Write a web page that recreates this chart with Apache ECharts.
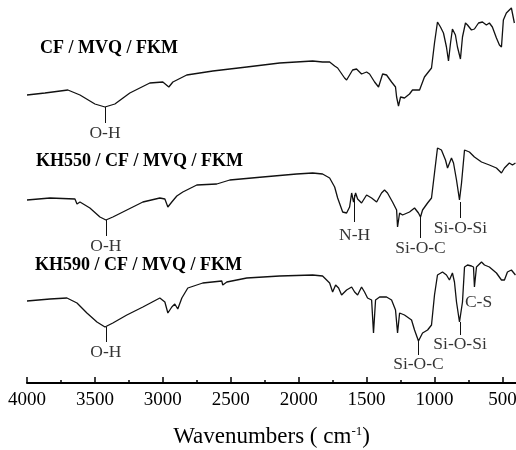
<!DOCTYPE html>
<html>
<head>
<meta charset="utf-8"/>
<title>FTIR</title>
<script src="https://cdn.jsdelivr.net/npm/echarts@6/dist/echarts.min.js"></script>
<style>
  html, body { margin: 0; padding: 0; background: #fff; }
  #main { width: 516px; height: 450px; }
</style>
</head>
<body>
<div id="main"></div>
<script type="text/javascript">
// spectra: [wavenumber, transmittance (a.u., stacked)]
var cfSpectrum = [
  [4000,288],[3868,290],[3699,293],[3610,288],[3500,279],[3426,276],[3353,279],[3243,290],
  [3096,300],[3000,301],[2956,296],[2926,301],[2824,308],[2632,312],[2382,316],[2140,320],
  [1897,322],[1824,321],[1772,321],[1735,317],[1713,315],[1662,305],[1647,303],[1603,313],
  [1574,314],[1537,309],[1500,311],[1478,309],[1441,301],[1412,296],[1382,309],[1353,308],
  [1316,301],[1287,296],[1279,286],[1265,277],[1250,286],[1221,285],[1184,289],[1162,293],
  [1110,293],[1074,306],[1022,315],[1000,340],[978,361],[956,356],[934,350],[912,336],
  [897,322],[882,340],[868,354],[846,348],[831,336],[809,324],[794,346],[772,360],
  [757,358],[728,353],[706,354],[676,360],[647,361],[618,358],[596,360],[574,356],
  [544,345],[522,338],[507,336],[493,363],[471,370],[449,373],[434,375],[412,360]
];
var kh550Spectrum = [
  [4000,183],[3831,185],[3647,184],[3632,179],[3610,181],[3537,175],[3463,166],[3419,163],
  [3368,166],[3265,173],[3147,181],[3022,185],[2985,184],[2963,176],[2934,181],[2897,187],
  [2853,191],[2750,198],[2603,199],[2507,203],[2265,206],[2015,209],[1897,210],[1824,209],
  [1772,205],[1735,196],[1713,185],[1676,171],[1647,170],[1625,176],[1610,190],[1596,181],
  [1581,190],[1566,184],[1537,180],[1500,188],[1463,185],[1426,181],[1390,190],[1368,193],
  [1346,190],[1309,181],[1279,173],[1272,156],[1257,170],[1235,168],[1184,171],[1147,175],
  [1118,170],[1103,166],[1088,173],[1051,180],[1022,185],[1000,210],[978,235],[949,233],
  [919,223],[904,215],[875,225],[860,220],[838,203],[816,183],[809,181],[801,200],
  [779,233],[743,231],[706,226],[654,221],[596,218],[544,215],[507,210],[485,215],
  [449,220],[426,218],[404,220]
];
var kh590Spectrum = [
  [4000,82],[3831,84],[3706,85],[3632,80],[3559,70],[3485,61],[3426,56],[3368,60],
  [3265,68],[3147,76],[3022,85],[2985,81],[2963,70],[2934,76],[2912,79],[2890,74],
  [2860,85],[2816,95],[2706,100],[2566,102],[2559,98],[2529,101],[2382,105],[2140,107],
  [1897,108],[1824,107],[1809,105],[1772,100],[1750,91],[1728,98],[1706,95],[1684,88],
  [1647,93],[1610,96],[1588,91],[1566,88],[1537,96],[1515,91],[1493,85],[1463,83],
  [1449,50],[1434,83],[1404,86],[1353,86],[1316,83],[1287,73],[1272,50],[1257,70],
  [1221,68],[1169,63],[1147,53],[1118,42],[1088,50],[1051,53],[1022,58],[1000,88],
  [978,108],[941,111],[912,108],[890,103],[868,110],[853,101],[838,81],[816,61],
  [794,81],[779,116],[757,118],[728,117],[713,116],[706,96],[691,116],[654,121],
  [632,118],[596,116],[544,110],[507,103],[485,103],[463,111],[434,113],[404,108]
];

// band markers: [label, wavenumber, line top, line bottom, text position]
var bandLabels = [
  ['O-H', 3426, 276, 260, 250],
  ['O-H', 3419, 163, 147, 137],
  ['N-H', 1588, 188, 161, 148],
  ['Si-O-C', 1103, 166, 145, 135],
  ['Si-O-Si', 809, 181, 165, 155],
  ['O-H', 3419, 56, 41, 31],
  ['Si-O-C', 1118, 42, 28, 19],
  ['Si-O-Si', 812, 61, 48, 39],
  ['C-S', 676, null, null, 81]
];

var sampleNames = ['CF / MVQ / FKM', 'KH550 / CF / MVQ / FKM', 'KH590 / CF / MVQ / FKM'];
var majorTicks = [500, 1000, 1500, 2000, 2500, 3000, 3500, 4000];
var minorTicks = [750, 1250, 1750, 2250, 2750, 3250, 3750];

var serif = '"Liberation Serif", "DejaVu Serif", serif';
var chart = echarts.init(document.getElementById('main'));

var markerLines = bandLabels.filter(function (b) { return b[2] !== null; }).map(function (b) {
  return { coords: [[b[1], b[2]], [b[1], b[3]]] };
});
var markerTexts = bandLabels.map(function (b) {
  return { value: [b[1], b[4]], name: b[0] };
});

function spectrum(data) {
  return {
    type: 'line',
    data: data,
    showSymbol: false,
    silent: true,
    lineStyle: { color: '#111', width: 1.3 },
    animation: false
  };
}

var option = {
  backgroundColor: '#fff',
  animation: false,
  grid: { left: 27, right: 0, top: 0, bottom: 67, outerBoundsMode: 'none', containLabel: false },
  xAxis: [{
    type: 'value',
    inverse: true,
    min: 400,
    max: 4000,
    splitLine: { show: false },
    axisLine: { lineStyle: { color: '#000', width: 2 } },
    axisTick: { inside: true, length: 6, customValues: majorTicks, lineStyle: { color: '#000', width: 1.5 } },
    axisLabel: {
      customValues: majorTicks, color: '#000', fontSize: 19, fontFamily: serif, margin: 8,
      formatter: function (v) { return String(v); }
    },
    name: '{n|Wavenumbers ( cm}{s|-1}{n|)}',
    nameLocation: 'middle',
    nameGap: 42,
    nameTextStyle: {
      rich: {
        n: { fontSize: 23, fontFamily: serif, color: '#000' },
        s: { fontSize: 13, fontFamily: serif, color: '#000', padding: [0, 0, 11, 0] }
      }
    }
  }, {
    type: 'value',
    inverse: true,
    min: 400,
    max: 4000,
    position: 'bottom',
    splitLine: { show: false },
    axisLine: { show: false },
    axisLabel: { show: false },
    axisTick: { inside: true, length: 3, customValues: minorTicks, lineStyle: { color: '#000', width: 1.5 } }
  }],
  yAxis: { type: 'value', min: 0, max: 383, show: false },
  graphic: [
    { type: 'text', left: 40, top: 39, style: { text: sampleNames[0], font: 'bold 18px ' + serif, fill: '#000' } },
    { type: 'text', left: 36, top: 152, style: { text: sampleNames[1], font: 'bold 18px ' + serif, fill: '#000' } },
    { type: 'text', left: 35, top: 256, style: { text: sampleNames[2], font: 'bold 18px ' + serif, fill: '#000' } }
  ],
  series: [
    spectrum(cfSpectrum),
    spectrum(kh550Spectrum),
    spectrum(kh590Spectrum),
    {
      type: 'lines',
      coordinateSystem: 'cartesian2d',
      data: markerLines,
      silent: true,
      lineStyle: { color: '#111', width: 1, opacity: 1 }
    },
    {
      type: 'scatter',
      data: markerTexts,
      symbolSize: 1,
      silent: true,
      itemStyle: { color: 'rgba(0,0,0,0)' },
      label: {
        show: true,
        position: 'inside',
        formatter: '{b}',
        color: '#000',
        fontSize: 17.5,
        fontFamily: serif
      }
    }
  ]
};
chart.setOption(option);
</script>
</body>
</html>
